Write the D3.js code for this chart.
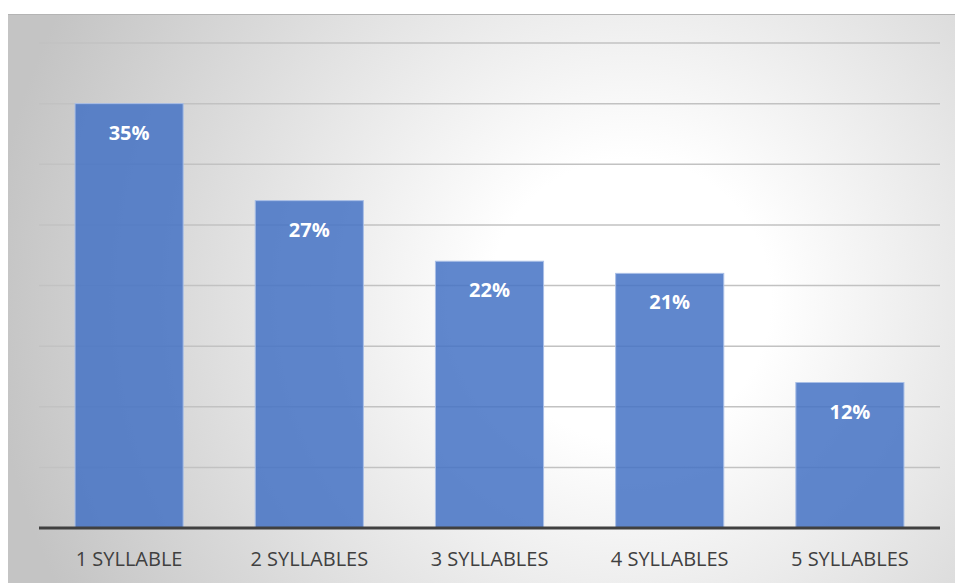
<!DOCTYPE html>
<html>
<head>
<meta charset="utf-8">
<script src="https://cdn.jsdelivr.net/npm/d3@7"></script>
<style>
  html, body { margin: 0; padding: 0; background: #ffffff; }
  svg { display: block; }
</style>
</head>
<body>
<svg id="chart" width="955" height="583"></svg>
<script>
// Share of words by syllable count
const categories = ["1 SYLLABLE", "2 SYLLABLES", "3 SYLLABLES", "4 SYLLABLES", "5 SYLLABLES"];
const shares = [35, 27, 22, 21, 12];
const gridTicks = [0, 5, 10, 15, 20, 25, 30, 35, 40];

const W = 955, H = 583;
const frame = { x: 8, y: 14, w: 947, h: 569 };
const plot = { left: 39, right: 940, top: 43, bottom: 528 };

const svg = d3.select("#chart");

// radial backdrop: light centre fading to grey at the edges
const defs = svg.append("defs");
const grad = defs.append("radialGradient")
  .attr("id", "bg")
  .attr("gradientUnits", "userSpaceOnUse")
  .attr("cx", 630).attr("cy", 300).attr("r", 640)
  .attr("fx", 630).attr("fy", 300);
grad.append("stop").attr("offset", "0%").attr("stop-color", "#ffffff");
grad.append("stop").attr("offset", "22%").attr("stop-color", "#ffffff");
grad.append("stop").attr("offset", "100%").attr("stop-color", "#c4c4c4");

svg.append("rect")
  .attr("x", frame.x).attr("y", frame.y)
  .attr("width", frame.w).attr("height", frame.h)
  .attr("fill", "url(#bg)");
svg.append("line")
  .attr("x1", frame.x).attr("x2", frame.x + frame.w)
  .attr("y1", frame.y + 0.5).attr("y2", frame.y + 0.5)
  .attr("stroke", "#b4b4b4").attr("stroke-width", 1);

const x = d3.scaleBand()
  .domain(categories)
  .range([plot.left, plot.right])
  .paddingInner(0.4)
  .paddingOuter(0.2);

const y = d3.scaleLinear()
  .domain([0, 40])
  .range([plot.bottom, plot.top]);

// horizontal gridlines
svg.append("g")
  .selectAll("line")
  .data(gridTicks.filter(t => t > 0))
  .join("line")
  .attr("x1", plot.left).attr("x2", plot.right)
  .attr("y1", d => y(d)).attr("y2", d => y(d))
  .attr("stroke", "#c2c2c2")
  .attr("stroke-width", 1.5);

// bars
const data = categories.map((c, i) => ({ c, v: shares[i] }));
svg.append("g")
  .selectAll("rect")
  .data(data)
  .join("rect")
  .attr("x", d => x(d.c))
  .attr("y", d => y(d.v))
  .attr("width", x.bandwidth())
  .attr("height", d => y(0) - y(d.v))
  .attr("fill", "#4472c4")
  .attr("fill-opacity", 0.85)
  .attr("stroke", "#a9bfe6")
  .attr("stroke-width", 1);

// value labels inside bars
svg.append("g")
  .selectAll("text")
  .data(data)
  .join("text")
  .attr("x", d => x(d.c) + x.bandwidth() / 2)
  .attr("y", d => y(d.v) + 36)
  .attr("text-anchor", "middle")
  .attr("font-family", "'Open Sans', sans-serif")
  .attr("font-weight", "bold")
  .attr("font-size", 20)
  .attr("fill", "#ffffff")
  .text(d => d.v + "%");

// baseline
svg.append("line")
  .attr("x1", plot.left).attr("x2", plot.right)
  .attr("y1", y(0)).attr("y2", y(0))
  .attr("stroke", "#404040")
  .attr("stroke-width", 3);

// category axis labels
const xAxis = d3.axisBottom(x).tickSize(0).tickPadding(24);
const gx = svg.append("g")
  .attr("transform", `translate(0,${y(0)})`)
  .call(xAxis);
gx.select(".domain").remove();
gx.selectAll("text")
  .attr("font-family", "'Open Sans', sans-serif")
  .attr("font-size", 20)
  .attr("fill", "#404040");
</script>
</body>
</html>
